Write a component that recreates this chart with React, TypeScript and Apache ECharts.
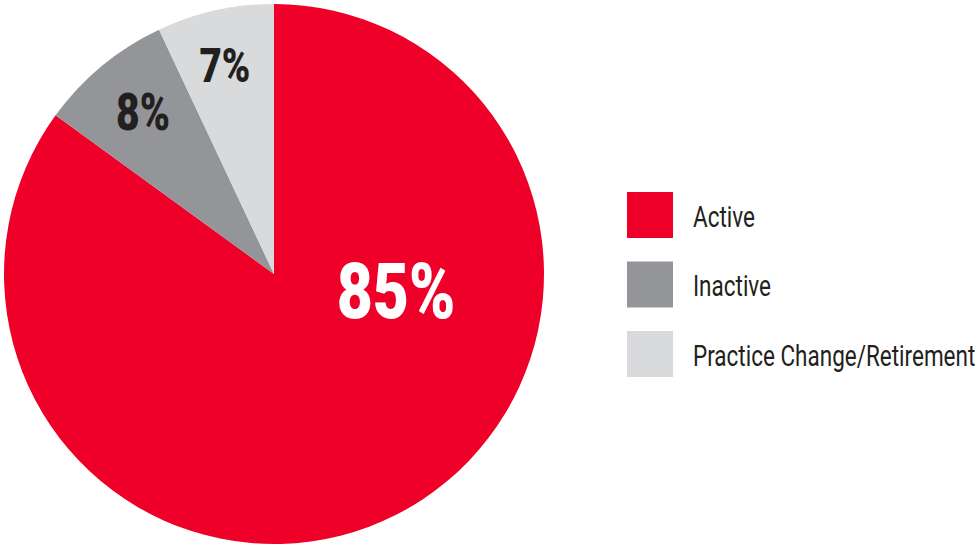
import React, { useEffect, useRef } from "react";
import * as echarts from "echarts";

const categories = ["Active", "Inactive", "Practice Change/Retirement"];
const values = [85, 8, 7];
const colors = ["#EE0028", "#939598", "#D9DADC"];
const labelColors = ["#FFFFFF", "#231F20", "#231F20"];
const labelSizes = [78, 51, 48];
const labelPos = [
  [396, 291],
  [143, 112],
  [225, 66],
];

const FONT = "Roboto, 'DejaVu Sans', sans-serif";
const LEGEND_X = 627;
const LEGEND_Y = 192;
const LEGEND_BOX = 46;
const LEGEND_STEP = 69.5;

export default function App() {
  const ref = useRef<HTMLDivElement>(null);
  useEffect(() => {
    if (!ref.current) return;
    const chart = echarts.init(ref.current, null, { renderer: "svg" });

    const labelEls = values.map((v, i) => ({
      type: "text",
      x: labelPos[i][0],
      y: labelPos[i][1],
      scaleX: 0.8,
      silent: true,
      z: 10,
      style: {
        text: v + "%",
        fontFamily: FONT,
        fontWeight: 900,
        fontSize: labelSizes[i],
        fill: labelColors[i],
        textAlign: "center",
        textVerticalAlign: "middle",
      },
    }));

    const legendEls: any[] = [];
    categories.forEach((c, i) => {
      const top = LEGEND_Y + i * LEGEND_STEP;
      legendEls.push({
        type: "rect",
        shape: { x: LEGEND_X, y: top, width: LEGEND_BOX, height: LEGEND_BOX },
        style: { fill: colors[i] },
        silent: true,
      });
      legendEls.push({
        type: "text",
        x: 693,
        y: top + LEGEND_BOX / 2 + 1,
        scaleX: 0.75,
        silent: true,
        style: {
          text: c,
          fontFamily: FONT,
          fontSize: 30,
          fill: "#231F20",
          textAlign: "left",
          textVerticalAlign: "middle",
        },
      });
    });

    chart.setOption({
      animation: false,
      series: [
        {
          type: "pie",
          center: [274, 274],
          radius: [0, 270],
          startAngle: 90,
          clockwise: true,
          silent: true,
          label: { show: false },
          labelLine: { show: false },
          data: categories.map((c, i) => ({
            name: c,
            value: values[i],
            itemStyle: { color: colors[i] },
          })),
        },
      ],
      graphic: [...labelEls, ...legendEls],
    });
    return () => chart.dispose();
  }, []);
  return (
    <div
      ref={ref}
      style={{ position: "absolute", left: 0, top: 0, width: 978, height: 546, background: "#fff" }}
    />
  );
}
